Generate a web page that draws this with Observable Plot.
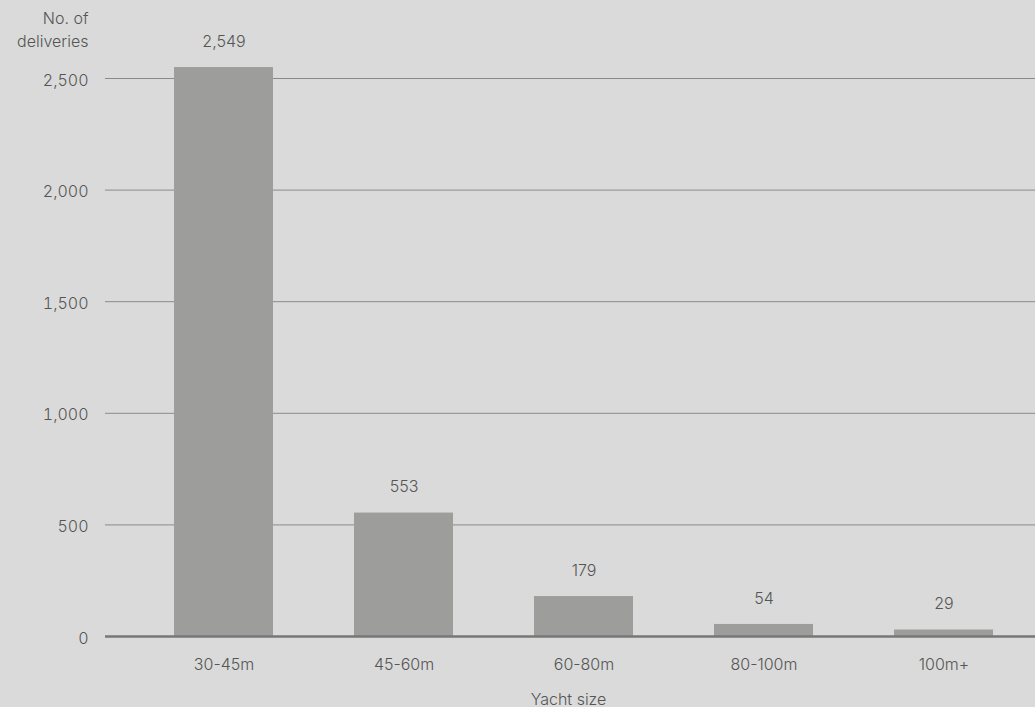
<!DOCTYPE html>
<html>
<head>
<meta charset="utf-8">
<script src="https://cdn.jsdelivr.net/npm/d3@7"></script>
<script src="https://cdn.jsdelivr.net/npm/@observablehq/plot@0.6"></script>
<style>
  html, body { margin: 0; padding: 0; background: #dadada; }
  #chart { width: 1035px; height: 707px; }
  svg text { font-weight: 300; }
</style>
</head>
<body>
<div id="chart"></div>
<script>
// Superyacht deliveries by size band
const sizes = ["30-45m", "45-60m", "60-80m", "80-100m", "100m+"];
const deliveries = [2549, 553, 179, 54, 29];
const yTicks = [0, 500, 1000, 1500, 2000, 2500];

const data = sizes.map((size, i) => ({size, count: deliveries[i]}));
const fmt = d3.format(",");
const ink = "#555";

const chart = Plot.plot({
  width: 1035,
  height: 707,
  marginLeft: 105,
  marginRight: 0,
  marginTop: 78,
  marginBottom: 71,
  style: {background: "#dadada", color: ink, fontSize: "16px", fontFamily: "Inter, 'Open Sans', sans-serif"},
  x: {domain: sizes, insetLeft: 28, insetRight: 2, paddingInner: 0.45, paddingOuter: 0.225, align: 0.5, label: null},
  y: {domain: [0, 2500], label: null},
  marks: [
    Plot.ruleY(yTicks.filter(d => d > 0), {stroke: "#8a8a8a", strokeWidth: 1}),
    Plot.barY(data, {x: "size", y: "count", fill: "#9d9d9b"}),
    Plot.ruleY([0], {stroke: "#777", strokeWidth: 2.5}),
    Plot.text(data, {x: "size", y: "count", text: d => fmt(d.count), dy: -26, fill: ink, fontSize: 16}),
    Plot.axisY({ticks: yTicks, tickFormat: fmt, tickSize: 0, tickPadding: 17, dy: 2, label: null, fontSize: 16}),
    Plot.axisX({tickSize: 0, tickPadding: 22, label: null, fontSize: 16}),
    Plot.text(["Yacht size"], {frameAnchor: "bottom", dx: -2, dy: 68, fill: ink, fontSize: 16}),
    Plot.text(["No. of\ndeliveries"], {frameAnchor: "top-left", textAnchor: "end", dx: -17, dy: -70, lineHeight: 1.4, fill: ink, fontSize: 16})
  ]
});

document.getElementById("chart").appendChild(chart);
</script>
</body>
</html>
